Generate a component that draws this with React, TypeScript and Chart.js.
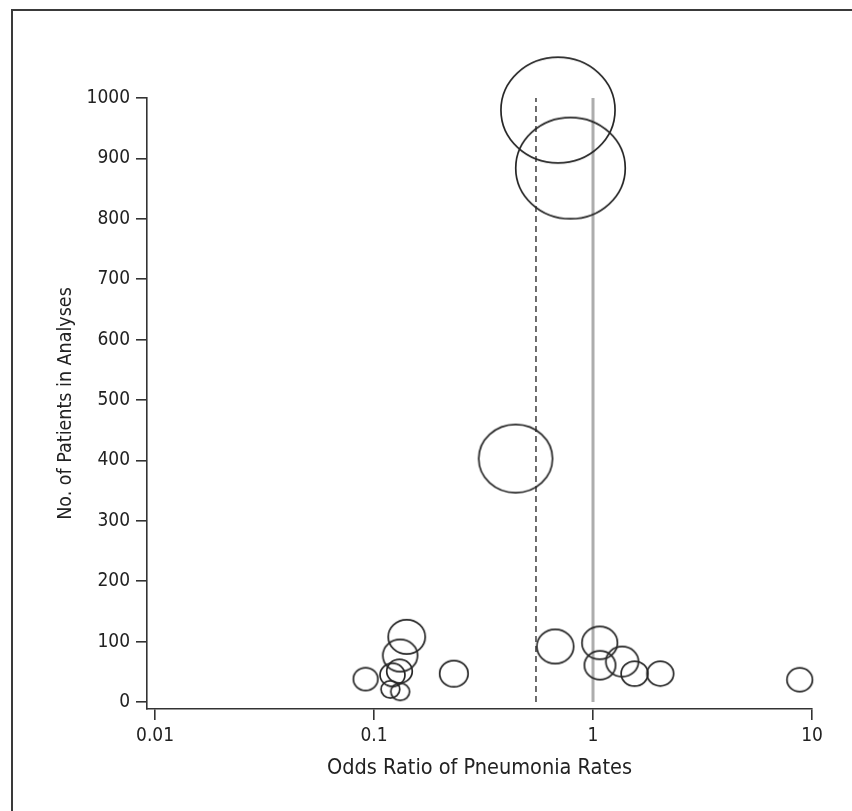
import React, { useEffect, useRef } from "react";
import { Chart, registerables } from "chart.js";

Chart.register(...registerables);

// ---- data ----
const oddsRatio = [0.692, 0.789, 0.443, 0.0915, 0.141, 0.1316, 0.1307, 0.1214, 0.1187, 0.1316, 0.2314, 0.672, 1.073, 1.076, 1.359, 1.547, 2.029, 8.79];
const patients = [980, 884, 403, 38, 108, 77, 51, 45, 21, 17, 47, 92, 98, 61, 67, 47, 47, 37];
const bubbleSize = [54.9, 52.7, 35.5, 11.8, 17.8, 16.7, 12.3, 12.0, 9.0, 9.0, 13.7, 17.7, 17.1, 15.0, 15.7, 12.9, 12.8, 12.3];

const pooledOR = 0.549;
const nullOR = 1;
const refLineRange = [0, 1000];

const xTickValues = [0.01, 0.1, 1, 10];
const xTickLabels = ["0.01", "0.1", "1", "10"];
const yTickValues = [0, 100, 200, 300, 400, 500, 600, 700, 800, 900, 1000];

const xTitle = "Odds Ratio of Pneumonia Rates";
const yTitle = "No. of Patients in Analyses";

const FONT = "'Liberation Sans Narrow', 'Arial Narrow', 'DejaVu Sans Condensed', sans-serif";
const INK = "#222";
const ASPECT = Math.sqrt(1.08);

function ellipseGlyph(r: number): HTMLCanvasElement {
  const lw = 1.7;
  const rx = r * ASPECT;
  const ry = r / ASPECT;
  const w = Math.ceil(2 * rx + 2 * lw + 2);
  const h = Math.ceil(2 * ry + 2 * lw + 2);
  const c = document.createElement("canvas");
  c.width = w;
  c.height = h;
  const g = c.getContext("2d")!;
  g.strokeStyle = "#262626";
  g.lineWidth = lw;
  g.beginPath();
  g.ellipse(w / 2, h / 2, rx, ry, 0, 0, Math.PI * 2);
  g.stroke();
  return c;
}

export default function App() {
  const ref = useRef<HTMLCanvasElement | null>(null);

  useEffect(() => {
    const canvas = ref.current;
    if (!canvas) return;
    const glyphs = bubbleSize.map((r) => ellipseGlyph(r));

    const chart = new Chart(canvas, {
      type: "bubble",
      data: {
        datasets: [
          {
            type: "bubble",
            data: oddsRatio.map((x, i) => ({ x, y: patients[i], r: bubbleSize[i] })),
            backgroundColor: "rgba(0,0,0,0)",
            borderColor: "#262626",
            borderWidth: 1.7,
            pointStyle: (ctx: any) => (ctx.dataIndex != null && glyphs[ctx.dataIndex]) ? glyphs[ctx.dataIndex] : "circle",
            clip: false,
            order: 0,
          } as any,
          {
            type: "line",
            data: refLineRange.map((y) => ({ x: pooledOR, y })),
            borderColor: "#4a4a4a",
            borderWidth: 1.6,
            borderDash: [6, 4],
            pointRadius: 0,
            fill: false,
            clip: false,
            order: 1,
          } as any,
          {
            type: "line",
            data: refLineRange.map((y) => ({ x: nullOR, y })),
            borderColor: "#adadad",
            borderWidth: 3,
            pointRadius: 0,
            fill: false,
            clip: false,
            order: 2,
          } as any,
        ],
      },
      options: {
        responsive: false,
        animation: false,
        events: [],
        layout: { autoPadding: false, padding: { left: 0, top: 98, right: 40, bottom: 0 } },
        plugins: { legend: { display: false }, tooltip: { enabled: false } },
        scales: {
          x: {
            type: "logarithmic",
            position: "bottom",
            min: 0.00919,
            max: 10,
            afterBuildTicks: (s: any) => {
              s.ticks = xTickValues.map((v) => ({ value: v }));
            },
            afterFit: (s: any) => {
              s.height = 102;
              s.paddingLeft = 0;
              s.paddingRight = 0;
            },
            ticks: {
              autoSkip: false,
              maxRotation: 0,
              padding: 5,
              color: INK,
              font: { family: FONT, size: 19 },
              callback: (_v: any, i: number) => xTickLabels[i],
            },
            grid: { drawOnChartArea: false, drawTicks: true, tickLength: 11, color: "#333", lineWidth: 1.6 },
            border: { display: true, color: "#333", width: 1.6 },
            title: {
              display: true,
              text: xTitle,
              color: INK,
              font: { family: FONT, size: 21.5 },
              padding: { top: 0, bottom: 30 },
            },
          },
          y: {
            type: "linear",
            position: "left",
            min: -11.5,
            max: 1000,
            afterBuildTicks: (s: any) => {
              s.ticks = yTickValues.map((v) => ({ value: v }));
            },
            afterFit: (s: any) => {
              s.width = 147;
              s.paddingTop = 0;
              s.paddingBottom = 0;
            },
            ticks: {
              autoSkip: false,
              padding: 6,
              color: INK,
              font: { family: FONT, size: 19 },
              callback: (v: any) => String(v),
            },
            grid: { drawOnChartArea: false, drawTicks: true, tickLength: 11, color: "#333", lineWidth: 1.6 },
            border: { display: true, color: "#333", width: 1.6 },
            title: {
              display: true,
              text: yTitle,
              color: INK,
              font: { family: FONT, size: 19.5 },
              padding: { top: 54, bottom: 0 },
            },
          },
        },
      } as any,
    });

    return () => chart.destroy();
  }, []);

  return (
    <div style={{ position: "absolute", left: 0, top: 0, width: 852, height: 811, overflow: "hidden", background: "#fff" }}>
      <div
        style={{
          position: "absolute",
          left: 11,
          top: 9,
          width: 900,
          height: 900,
          border: "2px solid #3a3a3a",
          boxSizing: "border-box",
        }}
      />
      <canvas ref={ref} width={852} height={811} style={{ position: "absolute", left: 0, top: 0, width: 852, height: 811 }} />
    </div>
  );
}
